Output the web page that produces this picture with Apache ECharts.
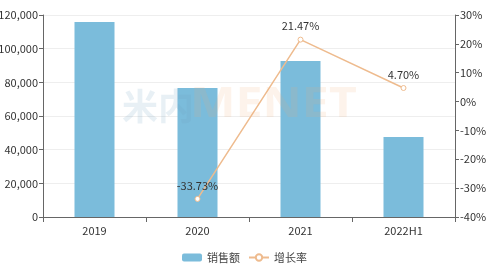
<!DOCTYPE html>
<html><head><meta charset="utf-8">
<script src="https://cdn.jsdelivr.net/npm/echarts@6/dist/echarts.min.js"></script>
<style>html,body{margin:0;padding:0;background:#fff}#c{width:489px;height:273px}</style>
</head><body><div id="c"></div>
<script>
const categories = ['2019', '2020', '2021', '2022H1'];
const sales = [115800, 76600, 92700, 47500];
const growth = [null, -33.73, 21.47, 4.70];
const salesName = '销售额';
const growthName = '增长率';

const font = '"Noto Sans CJK SC", "Noto Sans", sans-serif';
const chart = echarts.init(document.getElementById('c'), null, {renderer: 'canvas'});
chart.setOption({
  animation: false,
  textStyle: {fontFamily: font},
  grid: {left: 43, right: 34, top: 15, bottom: 56, outerBoundsMode: 'none', containLabel: false},
  graphic: [{
    type: 'text', left: 122, top: 88, z: 100, silent: true,
    style: {text: '米内', font: 'bold 36px "Noto Sans CJK SC"', fill: 'rgba(110,160,190,0.16)'}
  }, {
    type: 'text', left: 190, top: 84, z: 100, silent: true, scaleX: 1.15,
    style: {text: 'MENET', font: 'bold 42px "Noto Sans"', fill: 'rgba(240,170,110,0.14)'}
  }],
  legend: {
    top: 247, left: 'center', itemWidth: 20, itemHeight: 8, itemGap: 8,
    textStyle: {fontSize: 11, color: '#444', fontFamily: font},
    data: [{name: salesName, icon: 'roundRect'}, {name: growthName}]
  },
  xAxis: {
    type: 'category', data: categories,
    axisLine: {lineStyle: {color: '#666'}},
    axisTick: {show: true, lineStyle: {color: '#666'}},
    axisLabel: {color: '#333', fontSize: 11, margin: 8}
  },
  yAxis: [{
    type: 'value', min: 0, max: 120000, interval: 20000,
    axisLine: {show: true, lineStyle: {color: '#666'}},
    axisTick: {show: true, length: 4, lineStyle: {color: '#666'}},
    axisLabel: {color: '#333', fontSize: 11, margin: 5, formatter: v => v.toLocaleString('en-US')},
    splitLine: {lineStyle: {color: '#eee'}}
  }, {
    type: 'value', min: -40, max: 30, interval: 10,
    axisLine: {show: true, lineStyle: {color: '#666'}},
    axisTick: {show: true, length: 4, lineStyle: {color: '#666'}},
    axisLabel: {color: '#333', fontSize: 11, margin: 5, formatter: '{value}%'},
    splitLine: {show: false}
  }],
  series: [{
    name: salesName, type: 'bar', data: sales, barWidth: 40,
    itemStyle: {color: '#7bbcdb'}
  }, {
    name: growthName, type: 'line', yAxisIndex: 1, data: growth,
    symbol: 'circle', symbolSize: 5,
    lineStyle: {color: '#eebb8e', width: 1.5},
    itemStyle: {color: '#fff', borderColor: '#eebb8e', borderWidth: 1},
    label: {show: true, position: 'top', color: '#333', fontSize: 11,
      formatter: p => p.value.toFixed(2) + '%'}
  }]
});
</script></body></html>
